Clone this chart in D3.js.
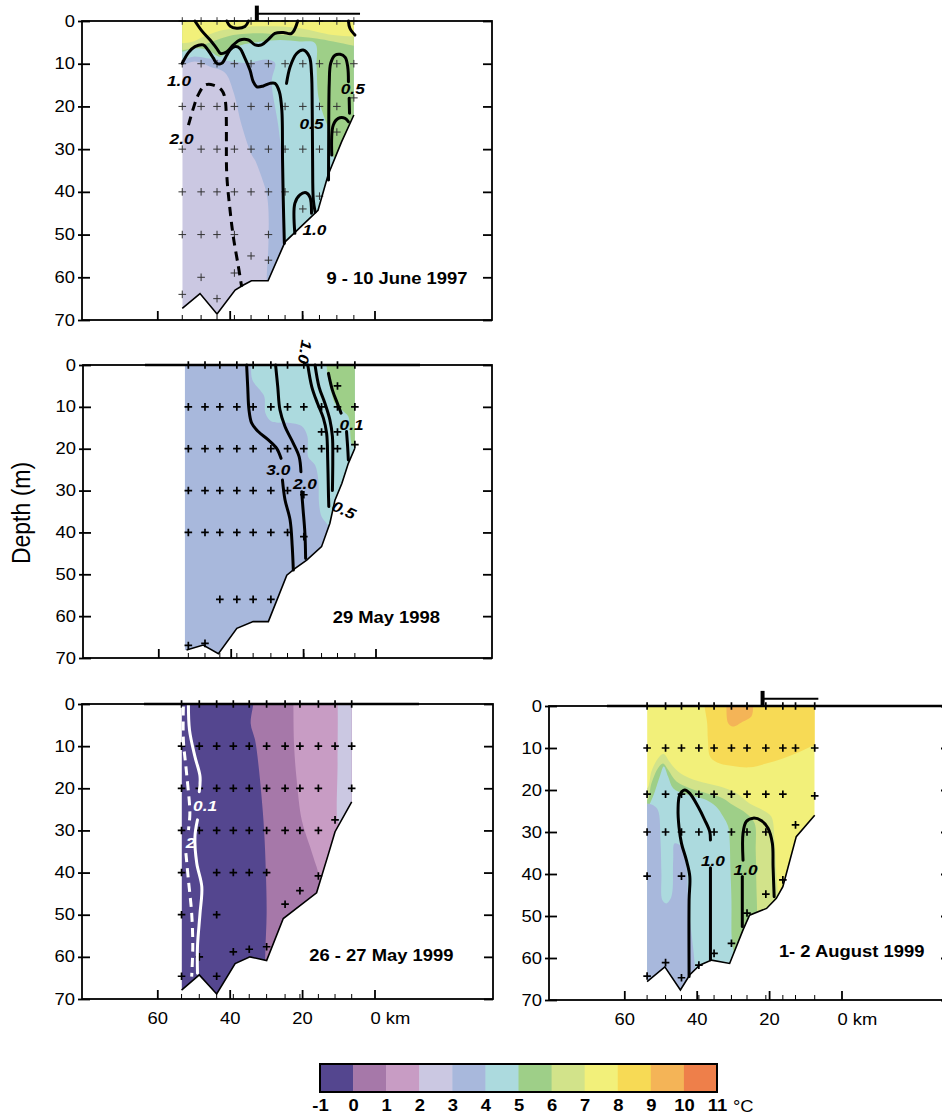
<!DOCTYPE html>
<html lang="en">
<meta charset="utf-8">
<head>
<script src="https://d3js.org/d3.v7.min.js"></script>
<style>
  body { margin: 0; background: #fff; }
  text { font-family: "Liberation Sans", Arial, sans-serif; }
</style>
</head>
<body>
<script>

// colour key, temperature classes (deg C)
var tempTicks = [-1, 0, 1, 2, 3, 4, 5, 6, 7, 8, 9, 10, 11];
var tempColors = ['#54468f', '#a678a9', '#c89cc4', '#cbc8e2', '#a8b8dc', '#acdade',
                  '#9ecf88', '#d2e38a', '#f2f07a', '#f7da55', '#f4b457', '#ee7f4a'];
var depthTicks = [0, 10, 20, 30, 40, 50, 60, 70];
var kmTicks = [60, 40, 20, 0];

// ---------- 9 - 10 June 1997 ----------
var p1Date = '9 - 10 June 1997';
var p1Casts = [
  [53.1, [0, 10, 20, 30, 40, 50, 64]], [47.9, [0, 10, 20, 30, 40, 50, 60]],
  [43.5, [0, 10, 20, 30, 40, 50, 65]], [38.7, [0, 10, 20, 30, 40, 50, 59]],
  [34.1, [0, 10, 20, 30, 40, 55]], [29.3, [0, 10, 20, 30, 40, 50, 56]],
  [24.7, [0, 10, 20, 30, 40]], [19.8, [0, 10, 20, 30, 44]],
  [15.2, [0, 10, 20, 30, 41]], [10.4, [0, 10, 20, 26]], [5.7, [0, 10, 18]]
];
var p1Bottom = [[53.1, 67.3], [48.2, 63.8], [43.5, 68.6], [38.5, 63], [36.2, 61.8], [34, 60.8],
  [29.4, 60.8], [24.7, 51.7], [15.6, 44.3], [12.8, 36], [9.1, 28.3], [5.7, 22]];
var p1Bands = [
  [3, [[55, 10.3], [53.1, 10.3], [49.6, 9.5], [45.4, 10.7], [41.3, 12.1], [39.0, 16.5], [36.7, 24.4],
       [33.9, 31.4], [33.0, 32.6], [31.2, 36.5], [29.8, 40.4], [29.3, 44.3], [29.3, 52.1], [29.8, 60.7],
       [29.8, 72], [0, 72], [0, -2], [55, -2]]],
  [4, [[55, 9.1], [53.1, 9.1], [50.05, 8.35], [46.4, 8.7], [40.8, 9.3], [35.3, 9.8], [29.8, 9.0],
       [27.5, 9.8], [28.4, 14.2], [26.6, 24.4], [25.6, 31.4], [25.4, 32.6], [24.9, 51.7], [24.9, 72],
       [0, 72], [0, -2], [55, -2]]],
  [5, [[55, 7.2], [53.1, 7.2], [49.6, 6.4], [46.0, 6.8], [42.7, 8.35], [39.9, 6.8], [36.7, 5.6],
       [31.2, 4.8], [26.1, 4.45], [20.6, 4.8], [16.4, 5.2], [16.0, 10.7], [15.5, 17.7], [14.1, 22.0],
       [12.3, 26.3], [11.4, 31.8], [4, 31.8], [0, 31.8], [0, -2], [55, -2]]],
  [6, [[55, 6.8], [53.1, 6.8], [50.05, 6.4], [47.3, 5.6], [43.6, 4.45], [39.0, 3.3], [34.4, 2.9],
       [29.8, 2.9], [25.2, 3.3], [20.6, 3.7], [16.0, 4.1], [11.4, 4.8], [4, 6.0], [0, 6.0], [0, -2], [55, -2]]],
  [7, [[55, 5.2], [53.1, 5.2], [50.05, 4.8], [47.3, 3.7], [43.6, 2.5], [39.0, 1.7], [34.4, 1.3],
       [29.8, 1.2], [25.2, 1.3], [20.6, 1.7], [16.0, 2.5], [11.4, 3.3], [4, 3.7], [0, 3.7], [0, -2], [55, -2]]]
];
var p1Lines = [
  [[49.6, 0], [47.7, 2.3], [45.4, 4.45], [43.6, 6.4], [42.5, 7.6], [40.8, 7.2], [39.0, 5.6], [37.2, 4.45],
   [34.8, 4.45], [33.0, 5.6], [31.2, 5.6], [29.3, 4.3], [27.5, 2.9], [25.2, 2.7], [22.9, 2.9], [21.2, 0]],
  [[40.8, 0], [39.9, 1.2], [38.1, 1.7], [35.8, 1.3], [34.8, 0]],
  [[7.2, 0], [6.8, 1.7], [5.4, 3.3]],
  [[53.1, 9.9], [51.4, 7.4], [49.6, 6.0], [47.3, 5.6], [46.0, 6.8], [44.5, 8.7], [43.6, 9.9], [42.2, 9.9],
   [40.8, 8.0], [39.9, 6.8], [38.5, 6.0], [37.2, 6.4], [35.8, 8.7], [34.4, 11.5], [33.5, 14.2], [32.5, 15.4],
   [30.7, 15.2], [28.9, 14.6], [27.5, 14.6], [26.3, 16.5], [25.6, 20.8], [25.4, 32.6], [25.2, 41.9], [24.9, 52.1]],
  [[24.3, 14.6], [23.3, 10.7], [21.5, 7.6], [19.7, 6.8], [18.0, 8.35], [17.4, 12.3], [17.2, 20.8],
   [17.1, 32.6], [16.9, 41.9], [16.4, 44.7]],
  [[12.7, 37.2], [12.65, 26.3], [12.5, 14.6], [12.1, 9.9], [10.9, 8.0], [9.5, 7.8], [8.1, 8.5], [7.4, 10.7], [7.2, 14.2]],
  [[7.0, 18.1], [6.9, 21.6]],
  [[11.8, 31.4], [11.4, 24.4], [10.0, 22.8], [8.1, 22.8], [7.2, 23.6]],
  [[22.0, 49.7], [22.0, 42.7], [20.6, 40.7], [18.9, 40.2], [17.8, 41.3], [17.4, 45.0]]
];
var p1Dashed = [
  [[51.4, 24.4], [50.05, 20.45], [48.7, 17.3], [46.8, 15.0], [44.5, 15.0], [42.2, 16.2], [41.3, 18.1],
   [40.8, 36.1], [39.9, 44.3], [39.0, 50.5], [37.6, 57.5], [36.7, 62.2]]
];
var p1Labels = [['1.0', 54.0, 14.05, 0], ['2.0', 53.3, 27.5, 0], ['0.5', 6.0, 15.8, 0],
                ['0.5', 17.4, 24.0, 0], ['1.0', 16.6, 48.8, 0]];
var p1Ice = [32.5, 4.0];

// ---------- 29 May 1998 ----------
var p2Date = '29 May 1998';
var p2Casts = [
  [51.7, [0, 10, 20, 30, 40, 67]], [47.1, [0, 10, 20, 30, 40, 66.5]],
  [43.0, [0, 10, 20, 30, 40, 56]], [38.3, [0, 10, 20, 30, 40, 56]],
  [33.8, [0, 10, 20, 30, 40, 56]], [28.9, [0, 10, 20, 30, 40, 56]],
  [24.3, [0, 10, 20, 30, 40]], [19.8, [0, 10, 20, 31, 41]],
  [14.9, [0, 10, 16, 20]], [10.5, [0, 5, 10, 16, 20]], [5.7, [0, 10, 19]]
];
var p2Bottom = [[52.2, 68.1], [47.6, 66.9], [43.4, 69], [38.3, 62.9], [33.8, 61.3], [29.6, 61.3],
  [24.5, 50.2], [22.2, 48.6], [19, 46.6], [14.9, 43.4], [12.6, 37.8], [11.2, 32.3], [9.3, 28.3],
  [7.5, 23.5], [5.7, 19.9]];
var p2Bands = [
  [4, [[34.4, -2], [34.4, 0], [34.0, 3.6], [31.9, 6.0], [30.7, 7.6], [30.4, 11.5], [28.7, 13.5], [24.1, 13.8],
       [20.4, 14.6], [18.8, 17.1], [18.6, 21.9], [16.7, 23.9], [15.8, 27.5], [15.6, 33.0], [14.9, 36.2],
       [13.0, 38.6], [12, 45], [0, 45], [0, -2]]],
  [5, [[13.5, -2], [13.5, 0.2], [13.0, 3.6], [12.1, 6.8], [11.2, 9.2], [9.4, 10.7], [7.5, 12.3], [7.1, 14.7],
       [6.6, 18.7], [5.7, 19.9], [4, 22], [0, 22], [0, -2]]]
];
var p2Lines = [
  [[35.6, 0], [35.3, 5.2], [34.95, 10.7], [34.2, 13.9], [32.4, 15.9], [29.6, 17.9], [27.3, 19.9], [26.1, 22.3]],
  [[25.7, 27.5], [25.0, 32.2], [23.6, 37.0], [23.0, 43.4], [22.7, 49.0]],
  [[27.6, 0], [27.0, 5.2], [26.4, 10.7], [25.0, 14.7], [22.7, 18.7], [21.1, 21.9], [20.6, 25.5]],
  [[20.4, 30.3], [20.0, 34.6], [19.5, 40.2], [19.3, 46.2]],
  [[18.7, 0], [17.6, 5.2], [16.0, 9.2], [14.4, 12.7], [13.5, 16.3], [13.2, 22.7], [13.0, 30.7], [12.9, 33.8]],
  [[16.7, 0], [15.6, 5.2], [13.95, 9.2], [12.6, 13.1], [11.9, 17.1], [11.8, 22.7], [11.9, 30]],
  [[13.0, 2.0], [11.9, 6.0], [10.5, 9.2], [9.5, 11.5]],
  [[8.0, 15.9], [7.7, 19.5], [7.5, 22.7]]
];
var p2Labels = [['1.0', 19.5, -3.1, 100], ['3.0', 26.85, 25.1, 0], ['2.0', 19.5, 28.3, 0],
                ['0.5', 8.7, 34.6, 25], ['0.1', 6.6, 14.3, 0]];

// ---------- 26 - 27 May 1999 ----------
var p3Date = '26 - 27 May 1999';
var p3Casts = [
  [53.3, [0, 10, 20, 30, 40, 50, 64.6]], [48.4, [0, 10, 20, 30, 60]],
  [43.6, [0, 10, 20, 30, 40, 50, 64.6]], [39.0, [0, 10, 20, 30, 40, 58.8]],
  [34.6, [0, 10, 20, 30, 40, 58.2]], [29.8, [0, 10, 20, 30, 40, 57.6]],
  [24.7, [0, 10, 20, 30, 47.5]], [20.6, [0, 10, 20, 30, 44.3]],
  [15.5, [0, 10, 20, 30, 40.8]], [10.9, [0, 10, 27.5]], [6.3, [0, 10, 20]]
];
var p3Bottom = [[53.3, 67.9], [48.4, 64.3], [43.6, 68.8], [38.5, 61.6], [34.4, 60.0], [29.8, 60.9],
  [25.2, 50.9], [16.0, 44.8], [12.8, 35.8], [10.9, 30.3], [6.3, 23.2]];
var p3Bands = [
  [0, [[33.5, -2], [33.5, 0], [34.2, 4.6], [33.0, 8.5], [32.1, 14.1], [31.2, 22.0], [30.5, 29.9], [30.0, 40.2],
       [29.8, 49.7], [30.2, 60.0], [30.2, 72], [0, 72], [0, -2]]],
  [1, [[22.4, -2], [22.4, 0], [22.2, 10.1], [21.5, 18.0], [20.1, 27.5], [17.8, 33.9], [16.0, 38.6],
       [13.7, 43.4], [0, 43.4], [0, -2]]],
  [2, [[10.4, -2], [10.2, 0], [10.2, 14], [10.2, 27.8], [9.8, 28.3], [0, 28.3], [0, -2]]]
];
var p3Lines = [
  [[51.4, 0], [51.1, 6.2], [49.6, 12.5], [48.2, 17.2], [48.4, 20.8]],
  [[48.9, 27.5], [49.6, 31.5], [49.1, 37.8], [47.7, 43.4], [48.2, 49.7], [48.9, 57.6], [48.9, 63.9]]
];
var p3Dashed = [
  [[52.8, 0.6], [52.8, 8.5], [51.9, 16.5], [51.0, 25.9], [51.4, 29.9]],
  [[52.1, 35.4], [51.4, 41.8], [50.5, 49.7], [50.2, 57.6], [50.5, 64.7]]
];
var p3Labels = [['0.1', 46.8, 24.2, 0], ['2', 50.8, 32.8, 0]];

// ---------- 1 - 2 August 1999 ----------
var p4Date = '1- 2 August 1999';
var p4Casts = [
  [53.7, [0, 10, 21, 30, 40.5, 64.3]], [48.6, [0, 10, 21, 30, 61.1]],
  [44.2, [0, 10, 21, 30, 40.5, 64.7]], [39.4, [0, 10, 21, 30, 61.7]],
  [35.2, [0, 10, 21, 30, 58.9]], [30.4, [0, 10, 21, 30, 56.5]],
  [26.1, [0, 10, 21, 30, 49.3]], [20.9, [0, 10, 21, 30, 44.8]],
  [16.2, [0, 10, 21, 41.4]], [12.7, [0, 10, 28.3]], [7.4, [0, 10, 21.4]]
];
var p4Bottom = [[53.7, 65.6], [48.8, 62.1], [44.5, 67.6], [41.9, 64.0], [39.2, 61.7], [35.9, 60.5],
  [30.9, 61.3], [27.2, 53.3], [25.4, 49.8], [20.7, 48.2], [18.0, 45.8], [16.2, 43.0], [12.5, 31.1], [7.4, 26.0]];
var p4Bands = [
  [8, [[37.8, -2], [37.8, 0], [37.1, 4.1], [36.9, 8.1], [36.2, 12.2], [33.6, 13.7], [30.0, 14.3], [25.4, 14.6],
       [20.8, 13.7], [16.2, 12.5], [11.5, 10.9], [7, 9.3], [0, 9.3], [0, -2]]],
  [9, [[31.8, -2], [31.8, 0], [31.3, 4.1], [30.0, 4.9], [27.2, 3.7], [24.9, 2.5], [24.4, 0], [24.4, -2]]],
  [6, [[56, 72], [56, 19.6], [53.7, 19.6], [52.5, 15.6], [50.7, 12.5], [49.1, 11.4], [47.5, 13.3], [45.15, 15.6],
       [41.9, 17.2], [37.3, 18.4], [32.7, 19.4], [29.0, 20.8], [25.4, 23.2], [21.7, 24.8], [19.4, 26.3],
       [18.5, 31.9], [18.0, 39.8], [17.5, 45.4], [16.1, 72]]],
  [5, [[56, 72], [56, 22.4], [53.7, 22.4], [52.5, 18.4], [50.7, 14.8], [49.3, 13.7], [47.9, 15.2], [45.6, 18.0],
       [41.9, 19.6], [37.3, 20.8], [32.7, 22.0], [30.0, 23.6], [26.3, 25.6], [24.0, 27.9], [23.7, 34.3],
       [23.5, 43.0], [23.3, 49.4], [23.3, 72]]],
  [4, [[56, 72], [56, 24.0], [53.7, 24.0], [52.1, 21.6], [50.2, 16.8], [49.1, 14.4], [47.9, 16.8], [46.5, 19.6],
       [43.8, 20.8], [40.1, 21.6], [37.3, 22.4], [34.6, 24.0], [32.7, 26.3], [31.3, 28.7], [30.9, 31.9],
       [30.7, 38.3], [30.4, 46.2], [30.4, 54.1], [30.0, 72]]],
  [3, [[56, 72], [56, 23.2], [53.7, 23.2], [52.1, 23.6], [50.7, 24.8], [50.0, 31.9], [49.75, 39.8], [49.5, 46.2],
       [48.4, 47.0], [47.0, 45.4], [46.5, 36.7], [46.1, 32.7], [44.2, 33.5], [42.85, 38.3], [42.4, 46.2], [42.1, 72]]]
];
var p4Lines = [
  [[42.1, 64.4], [42.1, 46.2], [41.9, 40.6], [42.85, 36.7], [44.2, 32.7], [44.9, 28.7], [45.15, 24.8],
   [44.7, 21.2], [43.3, 20.0], [41.9, 20.8], [39.6, 24.0], [37.8, 27.1], [36.4, 29.9], [36.2, 31.9]],
  [[36.2, 38.5], [36.2, 50], [36.2, 60.4]],
  [[27.2, 36.7], [27.2, 30.3], [26.3, 27.5], [24.4, 26.7], [22.1, 27.3], [20.3, 29.1], [19.1, 32.7],
   [18.9, 38.3], [18.6, 45.4]],
  [[27.4, 40.6], [27.4, 47.0], [27.4, 52.5]]
];
var p4Labels = [['1.0', 35.5, 36.7, 0], ['1.0', 26.5, 39.0, 0]];
var p4Ice = [21.8, 6.4];

// ---------- layout ----------
var SX = 1.15;            // the original lettering is a little wide
var KM_LEFT = 80.8, PX_PER_KM = 3.62;
var FONT = '"Liberation Sans", Arial, sans-serif';

var panels = [
  {id: 1, left: 82, top: 21, w: 410, h: 299, west: 53.1, base: 2, bottom: p1Bottom, bands: p1Bands,
   casts: p1Casts, lines: p1Lines, dashed: p1Dashed, labels: p1Labels, ink: '#000', date: p1Date,
   dateAt: [-6.2, 61.6], ice: p1Ice, surface: null, kmLabels: false, crossW: 1, crossC: '#333'},
  {id: 2, left: 83, top: 365, w: 409, h: 293, west: 52.7, base: 3, bottom: p2Bottom, bands: p2Bands,
   casts: p2Casts, lines: p2Lines, dashed: [], labels: p2Labels, ink: '#000', date: p2Date,
   dateAt: [-3.0, 61.6], ice: null, surface: [63.7, -12.3], kmLabels: false, crossW: 1.7, crossC: '#000'},
  {id: 3, left: 82, top: 704, w: 411, h: 295, west: 53.3, base: -1, bottom: p3Bottom, bands: p3Bands,
   casts: p3Casts, lines: p3Lines, dashed: p3Dashed, labels: p3Labels, ink: '#fff', date: p3Date,
   dateAt: [-1.9, 61.0], ice: null, surface: [63.7, -12.3], kmLabels: true, crossW: 1.7, crossC: '#000'},
  {id: 4, left: 549, top: 706, w: 401, h: 294, west: 53.7, base: 7, bottom: p4Bottom, bands: p4Bands,
   casts: p4Casts, lines: p4Lines, dashed: [], labels: p4Labels, ink: '#000', date: p4Date,
   dateAt: [-2.8, 59.8], ice: p4Ice, surface: [64.8, -40], kmLabels: true, crossW: 1.7, crossC: '#000'}
];

var svg = d3.select('body').append('svg')
  .attr('width', 942).attr('height', 1115)
  .style('display', 'block');

function colorOf(t) { return tempColors[tempTicks.indexOf(t)]; }

// stretch text horizontally about its own x position
function widen(sel) {
  sel.each(function() {
    var t = d3.select(this);
    var x0 = +t.attr('x') || 0;
    t.attr('transform', 'translate(' + x0 + ',0) scale(' + SX + ',1) translate(' + (-x0) + ',0)');
  });
}

// axis text styling (d3 sets its own font on the axis group)
function axisText(sel, bold) {
  sel.attr('font-size', 16).attr('font-family', FONT).attr('font-weight', bold ? 'bold' : null);
  sel.selectAll('text').attr('fill', '#000');
}

function drawPanel(p) {
  var g = svg.append('g').attr('transform', 'translate(' + p.left + ',' + p.top + ')');
  var x = d3.scaleLinear().domain([KM_LEFT, KM_LEFT - p.w / PX_PER_KM]).range([0, p.w]);
  var y = d3.scaleLinear().domain([0, 70]).range([0, p.h]);

  var lin = d3.line().x(function(d) { return x(d[0]); }).y(function(d) { return y(d[1]); });
  var smooth = d3.line().x(function(d) { return x(d[0]); }).y(function(d) { return y(d[1]); })
    .curve(d3.curveCatmullRom.alpha(0.5));
  var blob = d3.line().x(function(d) { return x(d[0]); }).y(function(d) { return y(d[1]); })
    .curve(d3.curveCatmullRomClosed.alpha(0.5));

  var east = p.bottom[p.bottom.length - 1][0];
  var section = [[p.west, 0], [east, 0]].concat(p.bottom.slice().reverse());
  if (p.west !== p.bottom[0][0]) section.push([p.west, p.bottom[0][1]]);

  var clipId = 'sec' + p.id;
  g.append('clipPath').attr('id', clipId).append('path').attr('d', lin(section) + 'Z');

  var field = g.append('g').attr('clip-path', 'url(#' + clipId + ')');
  field.append('path').attr('d', lin(section) + 'Z').attr('fill', colorOf(p.base));
  p.bands.forEach(function(b) {
    field.append('path').attr('d', blob(b[1])).attr('fill', colorOf(b[0]));
  });

  // sampling depths
  var crosses = [];
  p.casts.forEach(function(c) {
    c[1].forEach(function(dep) { crosses.push([c[0], dep]); });
  });
  g.append('g').selectAll('path').data(crosses).join('path')
    .attr('transform', function(d) { return 'translate(' + x(d[0]) + ',' + y(d[1]) + ')'; })
    .attr('d', 'M-3.8,0H3.8M0,-3.8V3.8')
    .attr('stroke', p.crossC).attr('stroke-width', p.crossW).attr('fill', 'none');

  // contours
  g.append('g').selectAll('path').data(p.lines).join('path')
    .attr('d', smooth).attr('fill', 'none')
    .attr('stroke', p.ink).attr('stroke-width', 3).attr('stroke-linecap', 'round');
  g.append('g').selectAll('path').data(p.dashed).join('path')
    .attr('d', smooth).attr('fill', 'none')
    .attr('stroke', p.ink).attr('stroke-width', 3).attr('stroke-dasharray', '9,6');

  // sea floor
  g.append('path').attr('d', lin(p.bottom)).attr('fill', 'none')
    .attr('stroke', '#000').attr('stroke-width', 1.6);

  if (p.surface) {
    g.append('path').attr('d', lin([[p.surface[0], 0], [p.surface[1], 0]]))
      .attr('stroke', '#000').attr('stroke-width', 2.6);
  }

  // frame and axes
  g.append('rect').attr('width', p.w).attr('height', p.h)
    .attr('fill', 'none').attr('stroke', '#000').attr('stroke-width', 1.8);

  var yl = g.append('g')
    .call(d3.axisLeft(y).tickValues(depthTicks).tickSizeInner(-8).tickSizeOuter(0).tickPadding(7));
  yl.select('.domain').remove();
  yl.selectAll('.tick line').attr('x1', -4).attr('stroke-width', 1.8);
  axisText(yl, false);
  widen(yl.selectAll('text'));

  var yr = g.append('g').attr('transform', 'translate(' + p.w + ',0)')
    .call(d3.axisRight(y).tickValues(depthTicks).tickSize(-9).tickFormat(''));
  yr.select('.domain').remove();
  yr.selectAll('.tick line').attr('stroke-width', 1.8);

  var xb = g.append('g').attr('transform', 'translate(0,' + p.h + ')')
    .call(d3.axisBottom(x).tickValues(kmTicks).tickSize(-9).tickPadding(14)
      .tickFormat(function(d) { return p.kmLabels ? (d === 0 ? '0 km' : d) : ''; }));
  xb.select('.domain').remove();
  xb.selectAll('.tick line').attr('stroke-width', 1.8);
  axisText(xb, false);
  xb.selectAll('.tick').filter(function(d) { return d === 0; }).select('text')
    .attr('text-anchor', 'start').attr('x', -4.5);
  widen(xb.selectAll('text'));

  // station marks on the bottom axis
  g.append('g').selectAll('line').data(p.casts).join('line')
    .attr('x1', function(d) { return x(d[0]); }).attr('x2', function(d) { return x(d[0]); })
    .attr('y1', y(70)).attr('y2', y(70) - 5)
    .attr('stroke', '#000').attr('stroke-width', 1);

  // contour labels
  g.append('g').selectAll('text').data(p.labels).join('text')
    .attr('x', function(d) { return x(d[1]); }).attr('y', function(d) { return y(d[2]); })
    .attr('dy', '0.36em').attr('text-anchor', 'middle')
    .attr('font-size', 15).attr('font-weight', 'bold').attr('font-style', 'italic')
    .attr('fill', p.ink).text(function(d) { return d[0]; })
    .each(function(d) {
      var t = d3.select(this), px = x(d[1]), py = y(d[2]);
      t.attr('transform', 'translate(' + px + ',' + py + ') rotate(' + d[3] + ') scale(' + SX + ',1) translate(' + (-px) + ',' + (-py) + ')');
    });

  // date
  var dt = g.append('text').attr('x', x(p.dateAt[0])).attr('y', y(p.dateAt[1]))
    .attr('text-anchor', 'middle').attr('font-size', 16).attr('font-weight', 'bold')
    .attr('fill', '#000').text(p.date);
  widen(dt);

  // ice edge marker
  if (p.ice) {
    g.append('path').attr('d', lin([[p.ice[0], -3.6], [p.ice[0], 0]]))
      .attr('stroke', '#000').attr('stroke-width', 4);
    g.append('path').attr('d', lin([[p.ice[0], -1.7], [p.ice[1], -1.7]]))
      .attr('stroke', '#000').attr('stroke-width', 2);
  }
}

panels.forEach(drawPanel);

// y title
svg.append('text')
  .attr('transform', 'translate(30,513) scale(' + SX + ',1) rotate(-90)')
  .attr('text-anchor', 'middle').attr('font-size', 23).attr('fill', '#000')
  .text('Depth (m)');

// colour key
var cb = d3.scaleLinear().domain([-1, 11]).range([320, 717]);
svg.append('g').selectAll('rect').data(tempColors).join('rect')
  .attr('x', function(d, i) { return cb(tempTicks[i]); })
  .attr('y', 1064)
  .attr('width', function(d, i) { return cb(tempTicks[i + 1]) - cb(tempTicks[i]) + 0.5; })
  .attr('height', 28)
  .attr('fill', function(d) { return d; });
svg.append('rect').attr('x', cb(-1)).attr('y', 1064).attr('width', cb(11) - cb(-1)).attr('height', 28)
  .attr('fill', 'none').attr('stroke', '#000').attr('stroke-width', 2);
var cbAxis = svg.append('g').attr('transform', 'translate(0,1092)')
  .call(d3.axisBottom(cb).tickValues(tempTicks).tickSize(0).tickPadding(8)
    .tickFormat(function(d) { return d; }));
cbAxis.select('.domain').remove();
axisText(cbAxis, true);
widen(cbAxis.selectAll('text'));
var deg = svg.append('text').attr('x', 733).attr('y', 1112).attr('font-size', 16)
  .attr('fill', '#000').text('°C');
widen(deg);

</script>
</body>
</html>
